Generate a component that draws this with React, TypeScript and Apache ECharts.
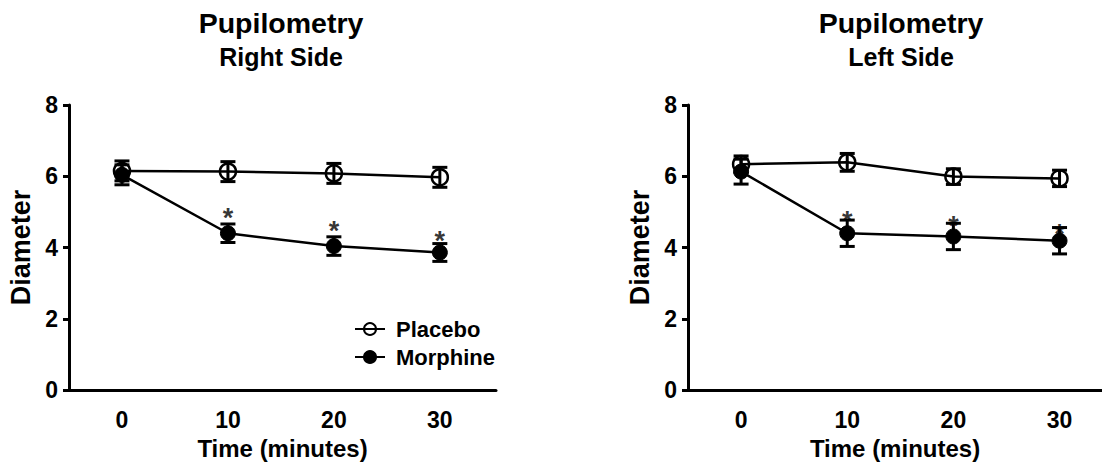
import React, { useEffect, useRef } from "react";
import * as echarts from "echarts";

const times = [0, 10, 20, 30];
const xTickLabels = [0, 10, 20, 30];
const yTicks = [0, 2, 4, 6, 8];

const rightPlaceboMean = [6.15, 6.13, 6.08, 5.97];
const rightPlaceboErr = [0.28, 0.28, 0.28, 0.28];
const rightMorphineMean = [6.04, 4.4, 4.04, 3.86];
const rightMorphineErr = [0.28, 0.26, 0.26, 0.25];
const rightStarTimes = [10, 20, 30];
const rightStarY = [5.01, 4.63, 4.35];

const leftPlaceboMean = [6.34, 6.39, 5.99, 5.94];
const leftPlaceboErr = [0.23, 0.25, 0.22, 0.23];
const leftMorphineMean = [6.13, 4.4, 4.31, 4.19];
const leftMorphineErr = [0.35, 0.37, 0.37, 0.37];
const leftStarTimes = [10, 20, 30];
const leftStarY = [4.92, 4.78, 4.55];

const FONT = "'Liberation Sans', Arial, sans-serif";

export default function App() {
  const ref = useRef<HTMLDivElement>(null);
  useEffect(() => {
    document.body.style.margin = "0";
    const chart = echarts.init(ref.current!, null, { renderer: "svg" });

    const errData = (mean: number[], err: number[]) =>
      times.map((t, i) => [t, mean[i] - err[i], mean[i] + err[i]]);

    const renderErr = (params: any, api: any) => {
      const x = api.value(0);
      const lo = api.coord([x, api.value(1)]);
      const hi = api.coord([x, api.value(2)]);
      const hw = 7.5;
      const style = { stroke: "#000", lineWidth: 3 };
      return {
        type: "group",
        children: [
          { type: "line", shape: { x1: lo[0], y1: lo[1], x2: hi[0], y2: hi[1] }, style },
          { type: "line", shape: { x1: lo[0] - hw, y1: lo[1], x2: lo[0] + hw, y2: lo[1] }, style },
          { type: "line", shape: { x1: hi[0] - hw, y1: hi[1], x2: hi[0] + hw, y2: hi[1] }, style },
        ],
      };
    };

    const xAxisBase = (gridIndex: number, max: number) => ({
      type: "value",
      gridIndex,
      min: -5,
      max,
      name: "Time (minutes)",
      nameLocation: "middle",
      nameGap: 46,
      nameTextStyle: { fontFamily: FONT, fontWeight: "bold", fontSize: 24, color: "#000" },
      axisLine: { show: true, onZero: false, lineStyle: { color: "#000", width: 3 } },
      axisTick: { show: false },
      splitLine: { show: false },
      axisLabel: {
        customValues: xTickLabels,
        fontFamily: FONT,
        fontWeight: "bold",
        fontSize: 23,
        color: "#000",
        margin: 18,
      },
    });

    const yAxisBase = (gridIndex: number) => ({
      type: "value",
      gridIndex,
      min: 0,
      max: 8,
      interval: 2,
      name: "Diameter",
      nameLocation: "middle",
      nameGap: 35,
      nameTextStyle: { fontFamily: FONT, fontWeight: "bold", fontSize: 27, color: "#000" },
      axisLine: { show: true, onZero: false, lineStyle: { color: "#000", width: 3 } },
      axisTick: { show: true, length: 6, lineStyle: { color: "#000", width: 3 } },
      splitLine: { show: false },
      axisLabel: {
        customValues: yTicks,
        fontFamily: FONT,
        fontWeight: "bold",
        fontSize: 23,
        color: "#000",
        margin: 11,
      },
    });

    const lineSeries = (name: string, mean: number[], idx: number, filled: boolean) => ({
      type: "line",
      name,
      xAxisIndex: idx,
      yAxisIndex: idx,
      data: times.map((t, i) => [t, mean[i]]),
      symbol: "circle",
      symbolSize: filled ? 15 : 16,
      lineStyle: { color: "#000", width: 2.5 },
      itemStyle: filled
        ? { color: "#000", borderColor: "#000", borderWidth: 1 }
        : { color: "rgba(0,0,0,0)", borderColor: "#000", borderWidth: 2.5 },
      z: filled ? 4 : 3,
    });

    const errSeries = (mean: number[], err: number[], idx: number) => ({
      type: "custom",
      xAxisIndex: idx,
      yAxisIndex: idx,
      data: errData(mean, err),
      renderItem: renderErr,
      z: 5,
      silent: true,
    });

    const starSeries = (xs: number[], ys: number[], idx: number) => ({
      type: "scatter",
      xAxisIndex: idx,
      yAxisIndex: idx,
      data: xs.map((t, i) => [t, ys[i]]),
      symbolSize: 1,
      itemStyle: { color: "rgba(0,0,0,0)" },
      label: {
        show: true,
        position: "inside",
        formatter: "*",
        fontFamily: FONT,
        fontWeight: "bold",
        fontSize: 27,
        color: "#000",
        offset: [0, 6],
      },
      z: 6,
      silent: true,
    });

    const titleStyle = { fontFamily: FONT, fontWeight: "bold", fontSize: 28.5, color: "#000" };
    const subStyle = { fontFamily: FONT, fontWeight: "bold", fontSize: 25, color: "#000" };

    chart.setOption({
      animation: false,
      backgroundColor: "#fff",
      title: [
        {
          text: "Pupilometry",
          subtext: "Right Side",
          left: 276,
          top: 3,
          textAlign: "center",
          itemGap: 7,
          textStyle: titleStyle,
          subtextStyle: subStyle,
        },
        {
          text: "Pupilometry",
          subtext: "Left Side",
          left: 896,
          top: 3,
          textAlign: "center",
          itemGap: 7,
          textStyle: titleStyle,
          subtextStyle: subStyle,
        },
      ],
      legend: {
        data: ["Placebo", "Morphine"],
        orient: "vertical",
        left: 349,
        top: 313,
        itemWidth: 30,
        itemHeight: 15,
        itemGap: 6,
        selectedMode: false,
        textStyle: {
          fontFamily: FONT,
          fontWeight: "bold",
          fontSize: 22,
          color: "#000",
          padding: [0, 0, 0, 6],
        },
      },
      grid: [
        { left: 69, top: 105, width: 427, height: 285 },
        { left: 688, top: 105, width: 414, height: 285 },
      ],
      xAxis: [xAxisBase(0, 35.3), xAxisBase(1, 34)],
      yAxis: [yAxisBase(0), yAxisBase(1)],
      series: [
        lineSeries("Placebo", rightPlaceboMean, 0, false),
        lineSeries("Morphine", rightMorphineMean, 0, true),
        errSeries(rightPlaceboMean, rightPlaceboErr, 0),
        errSeries(rightMorphineMean, rightMorphineErr, 0),
        starSeries(rightStarTimes, rightStarY, 0),
        lineSeries("Placebo", leftPlaceboMean, 1, false),
        lineSeries("Morphine", leftMorphineMean, 1, true),
        errSeries(leftPlaceboMean, leftPlaceboErr, 1),
        errSeries(leftMorphineMean, leftMorphineErr, 1),
        starSeries(leftStarTimes, leftStarY, 1),
      ],
    });
    return () => chart.dispose();
  }, []);
  return <div ref={ref} style={{ width: 1102, height: 469 }} />;
}
